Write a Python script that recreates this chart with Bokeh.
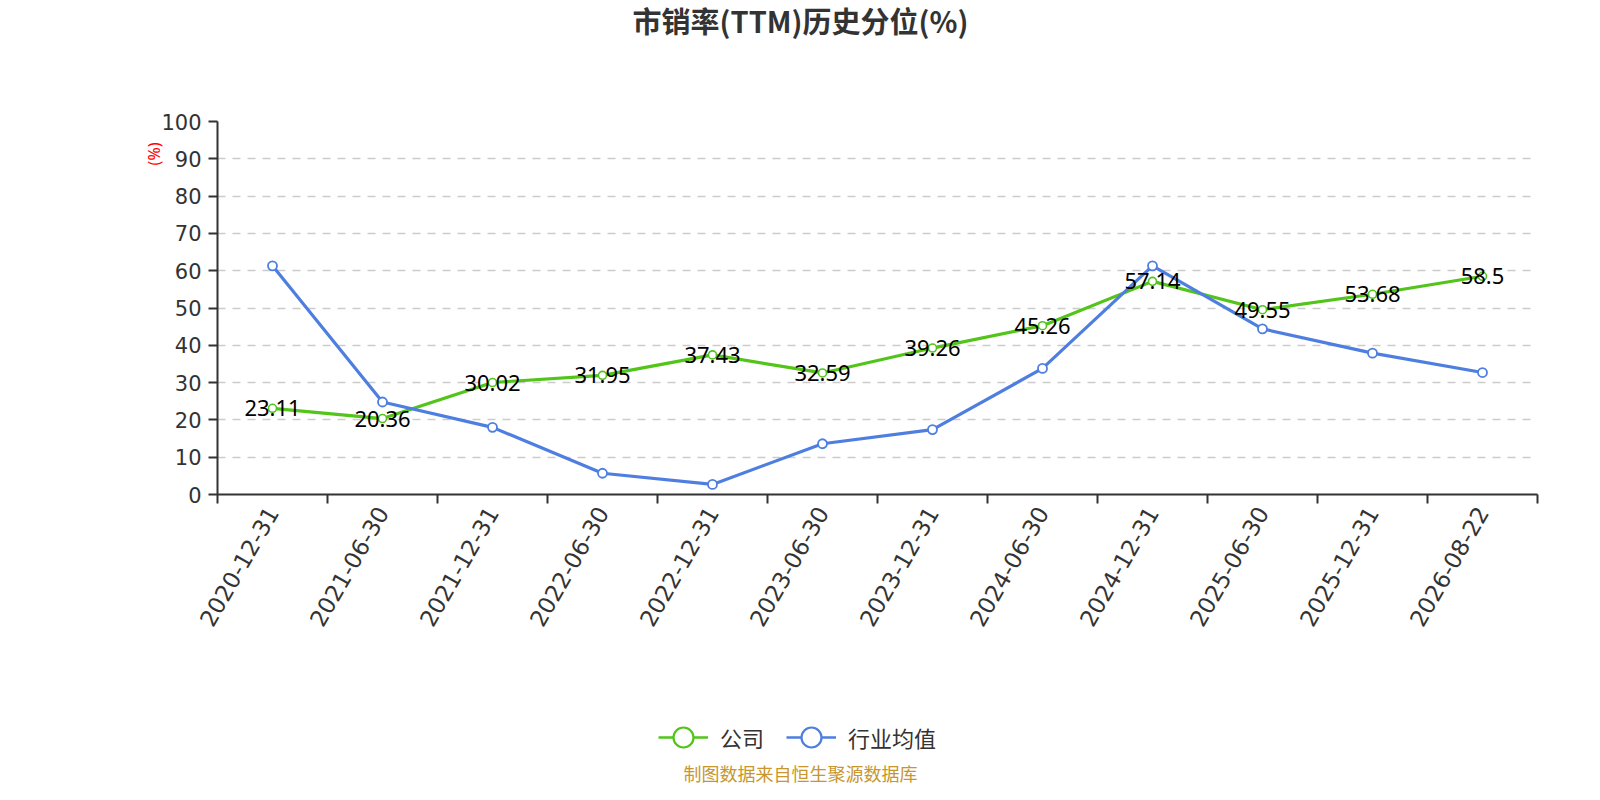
import math
from bokeh.plotting import figure
from bokeh.layouts import column
from bokeh.models import (ColumnDataSource, FixedTicker, Legend, LegendItem, Range1d, Title, Label)
from bokeh.core.properties import value
from bokeh.embed import file_html
from bokeh.resources import INLINE

categories = ["2020-12-31", "2021-06-30", "2021-12-31", "2022-06-30", "2022-12-31", "2023-06-30",
              "2023-12-31", "2024-06-30", "2024-12-31", "2025-06-30", "2025-12-31", "2026-08-22"]
company = [23.11, 20.36, 30.02, 31.95, 37.43, 32.59, 39.26, 45.26, 57.14, 49.55, 53.68, 58.5]
company_labels = ["23.11", "20.36", "30.02", "31.95", "37.43", "32.59", "39.26", "45.26", "57.14", "49.55", "53.68", "58.5"]
industry = [61.3, 24.8, 18.0, 5.7, 2.7, 13.6, 17.4, 33.8, 61.3, 44.4, 37.9, 32.7]
y_ticks = [0, 10, 20, 30, 40, 50, 60, 70, 80, 90, 100]

title_text = "市销率(TTM)历史分位(%)"
footer_text = "制图数据来自恒生聚源数据库"
unit_text = "(%)"
series_names = ["公司", "行业均值"]

GREEN = "#52c41a"
BLUE = "#4e7fe0"
AXIS_FONT = "DejaVu Sans"
FONT = "Noto Sans"
CJK = "Noto Sans CJK SC"
W = 1584
LEFT, RIGHT = 217, 1537          # frame edges shared by all three stacked plots


def bare(height, y0=0):
    # frames in a column are aligned with the main chart's frame, so the x range
    # covers exactly that frame and one data unit equals one pixel
    f = figure(width=W, height=height, output_backend="svg", toolbar_location=None,
               x_range=Range1d(LEFT, RIGHT), y_range=Range1d(y0, y0 + height),
               x_axis_location=None, y_axis_location=None,
               min_border=0, title=None)
    f.outline_line_color = None
    f.xgrid.grid_line_color = None
    f.ygrid.grid_line_color = None
    f.background_fill_color = "white"
    f.border_fill_color = "white"
    return f


# ---------------- title strip ----------------
p0 = bare(50)
p0.add_layout(Label(x=800, y=31, text=title_text, text_align="center", text_baseline="middle",
                    text_font=CJK, text_font_size="29px", text_font_style="bold",
                    text_color="#333333"))

# ---------------- main chart ----------------
xs = list(range(len(categories)))
src = ColumnDataSource(dict(x=xs, company=company, industry=industry, lab=company_labels))

p = figure(width=W, height=614, output_backend="svg", toolbar_location=None,
           x_range=Range1d(-0.5, len(categories) - 0.5), y_range=Range1d(0, 100),
           min_border_left=LEFT, min_border_right=W - RIGHT, min_border_top=71,
           min_border_bottom=170, title=None)
p.outline_line_color = None
p.background_fill_color = "white"
p.border_fill_color = "white"

xax = p.xaxis[0]
xax.ticker = FixedTicker(ticks=xs, minor_ticks=[i - 0.5 for i in range(len(categories) + 1)])
xax.major_label_overrides = {i: c for i, c in enumerate(categories)}
xax.major_label_orientation = math.pi / 3
xax.major_tick_out = 0
xax.major_tick_in = 0
xax.minor_tick_out = 9
xax.minor_tick_in = 0
xax.minor_tick_line_color = "#333333"
xax.minor_tick_line_width = 2
xax.axis_line_color = "#333333"
xax.axis_line_width = 2
xax.major_label_text_font = AXIS_FONT
xax.major_label_text_font_size = "23px"
xax.major_label_text_color = "#333333"
xax.major_label_standoff = 5

yax = p.yaxis[0]
yax.ticker = FixedTicker(ticks=y_ticks, minor_ticks=[])
yax.major_tick_out = 9
yax.major_tick_in = 0
yax.major_tick_line_color = "#333333"
yax.major_tick_line_width = 2
yax.axis_line_color = "#333333"
yax.axis_line_width = 2
yax.major_label_text_font = AXIS_FONT
yax.major_label_text_font_size = "21px"
yax.major_label_text_color = "#333333"
yax.major_label_standoff = 7

p.xgrid.grid_line_color = None
p.ygrid.grid_line_color = "#cccccc"
p.ygrid.grid_line_dash = "8 7"
p.ygrid.grid_line_width = 1.5

p.line("x", "company", source=src, line_color=GREEN, line_width=3.2)
p.scatter("x", "company", source=src, size=8, marker="circle",
          fill_color="white", line_color=GREEN, line_width=1.6)
p.line("x", "industry", source=src, line_color=BLUE, line_width=3.2)
p.scatter("x", "industry", source=src, size=9, marker="circle",
          fill_color="white", line_color=BLUE, line_width=1.8)

p.text("x", "company", text="lab", source=src, text_align="center", text_baseline="middle",
       text_font=value(FONT), text_font_size="22px", text_color="black")

p.add_layout(Title(text=unit_text, align="right", text_font=FONT, text_font_size="16px",
                   text_font_style="normal", text_color="red", offset=21, standoff=-13), "left")

# ---------------- legend + source strip ----------------
# the legend's proxy glyphs carry the series data but lie outside this strip's y range
p2 = bare(120, y0=1000)
lg1 = p2.line("x", "company", source=src, line_color=GREEN, line_width=2.5)
sg1 = p2.scatter("x", "company", source=src, marker="circle", fill_color="white",
                 line_color=GREEN, line_width=2.2)
lg2 = p2.line("x", "industry", source=src, line_color=BLUE, line_width=2.5)
sg2 = p2.scatter("x", "industry", source=src, marker="circle", fill_color="white",
                 line_color=BLUE, line_width=2.2)
legend = Legend(items=[LegendItem(label=series_names[0], renderers=[lg1, sg1]),
                       LegendItem(label=series_names[1], renderers=[lg2, sg2])],
                orientation="horizontal", location=(658 - LEFT, 22), margin=0, padding=0,
                label_text_font=CJK, label_text_font_size="22px", label_text_color="#333333",
                glyph_width=50, glyph_height=50, spacing=22, label_standoff=12,
                border_line_color=None, background_fill_alpha=0)
p2.add_layout(legend, "center")
p2.add_layout(Label(x=800, y=1012, text=footer_text, text_align="center", text_baseline="middle",
                    text_font=CJK, text_font_size="18px", text_color="#c8962d"))

layout = column(p0, p, p2, spacing=0)
open("out.html", "w").write(file_html(layout, INLINE))
